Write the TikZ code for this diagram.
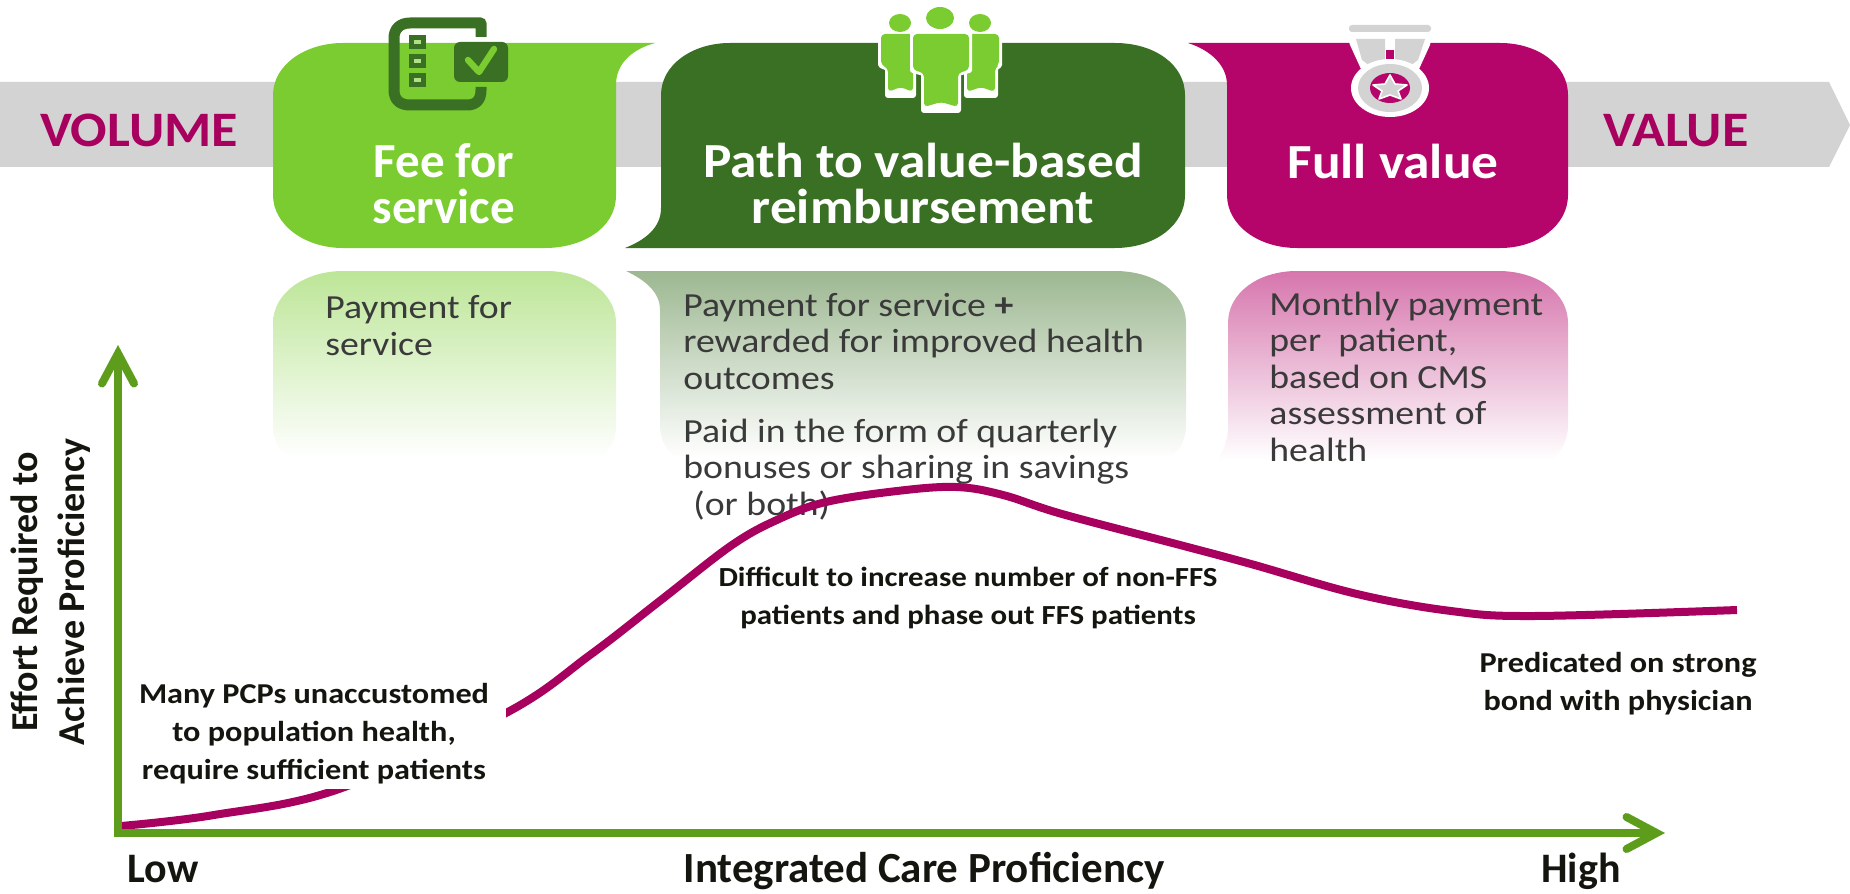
\documentclass[tikz,border=0pt]{standalone}
\usepackage{fontspec}
\setmainfont{Carlito}
\newfontfamily\widef[FakeStretch=1.12]{Carlito}
\newfontfamily\headf[FakeStretch=1.09]{Carlito}
\usetikzlibrary{arrows.meta}
\definecolor{band}{HTML}{D3D3D3}
\definecolor{lime}{HTML}{7ACC30}
\definecolor{forest}{HTML}{3A7023}
\definecolor{berry}{HTML}{B5056A}
\definecolor{curvec}{HTML}{A8005E}
\definecolor{axisg}{HTML}{5E9C1C}
\definecolor{bodyc}{HTML}{3A3A3A}
\definecolor{labelc}{HTML}{151510}
\newcommand{\pxfont}[2]{\fontsize{#1pt}{#2pt}\selectfont}
\tikzset{
  headtext/.style={text=white,font=\headf\bfseries\pxfont{24.5}{23},align=center,anchor=base,inner sep=0pt},
  feetext/.style={text=white,font=\bfseries\pxfont{24.5}{23},align=center,anchor=base,inner sep=0pt},
  endtext/.style={text=curvec,font=\headf\bfseries\pxfont{24.8}{28},anchor=base,inner sep=0pt},
  bodytext/.style={text=bodyc,font=\widef\pxfont{16.85}{18.2},align=left,anchor=base west,inner sep=0pt},
  notetext/.style={text=labelc,font=\widef\bfseries\pxfont{14.4}{19},align=center,anchor=base,inner sep=0pt},
  axistext/.style={text=labelc,font=\bfseries\pxfont{21}{23.5},align=center,anchor=base,inner sep=0pt},
  efforttext/.style={text=labelc,font=\bfseries\pxfont{19}{23.5},align=center,anchor=base,inner sep=0pt},
  axisline/.style={draw=axisg,line width=4pt,-{Straight Barb[length=15pt,width=16pt,line cap=round]}},
}
\begin{document}
\begin{tikzpicture}[x=0.5pt,y=-0.5pt]
\useasboundingbox (0,0) rectangle (1850,893);
% band
\fill[band] (0,82) -- (1829,82) -- (1850,125) -- (1829,167) -- (0,167) -- cycle;
% top boxes
\fill[lime] (343,43) -- (655,43) .. controls (630,50) and (616,65) .. (616,85) -- (616,195) .. controls (616,230) and (580,248) .. (545,248) -- (343,248) .. controls (305,248) and (273,225) .. (273,195) -- (273,95) .. controls (273,65) and (305,43) .. (343,43) -- cycle;
\fill[forest] (730,43) -- (1115,43) .. controls (1155,43) and (1185,65) .. (1185,95) -- (1185,195) .. controls (1185,225) and (1155,248) .. (1115,248) -- (625,248) .. controls (645,240) and (661,228) .. (661,208) -- (661,95) .. controls (661,65) and (692,43) .. (730,43) -- cycle;
\fill[berry] (1188,43) -- (1500,43) .. controls (1538,43) and (1568,65) .. (1568,95) -- (1568,195) .. controls (1568,225) and (1538,248) .. (1500,248) -- (1297,248) .. controls (1258,248) and (1227,225) .. (1227,195) -- (1227,85) .. controls (1227,65) and (1210,50) .. (1188,43) -- cycle;
% lower fading boxes
\shade[top color=lime!50!white,bottom color=white] (343,271) -- (546,271) .. controls (585,271) and (616,293) .. (616,323) -- (616,425) .. controls (616,440) and (610,450) .. (600,458) -- (289,458) .. controls (279,450) and (273,440) .. (273,425) -- (273,323) .. controls (273,293) and (305,271) .. (343,271) -- cycle;
\shade[top color=forest!50!white,bottom color=white] (626,271) -- (1115,271) .. controls (1155,271) and (1186,293) .. (1186,323) -- (1186,425) .. controls (1186,440) and (1180,450) .. (1170,458) -- (676,458) .. controls (666,450) and (660,440) .. (660,425) -- (660,310) .. controls (660,292) and (645,280) .. (626,271) -- cycle;
\shade[top color=berry!55!white,bottom color=white] (1297,271) -- (1498,271) .. controls (1538,271) and (1568,293) .. (1568,323) -- (1568,425) .. controls (1568,440) and (1562,450) .. (1552,460) -- (1217,460) .. controls (1224,450) and (1228,440) .. (1228,425) -- (1228,323) .. controls (1228,293) and (1258,271) .. (1297,271) -- cycle;
% checklist icon
\draw[forest,line width=5.5pt,line join=round] (481,37) -- (481,23) -- (410,23) .. controls (400,23) and (394,29) .. (394,38) -- (394,90) .. controls (394,100) and (400,105) .. (410,105) -- (467,105) .. controls (476,105) and (481,100) .. (481,90) -- (481,87);
\foreach \ya in {42,61,80}{\draw[forest,line width=2.5pt,fill=lime!60!white] (411,\ya-4.5) rectangle (423,\ya+4.5);}
\fill[forest,rounded corners=3pt] (454,42) -- (508,42) -- (508,82) -- (454,82) -- cycle;
\draw[lime,line width=3.2pt,line cap=round,line join=round] (468,60) -- (479,72) -- (494,49);
% people icon
\foreach \cx/\hy/\rx/\ry/\bl/\br/\ll/\lr/\ty/\by/\fy in {900/23/11/9/881/915/888/913/34/65/92,980/23/11/9/968/999/967/995/34/65/92,940/18/14/11/913/969/924/958/34/70/107}{
  \fill[white,draw=white,line width=3pt,line join=round] (\bl,\ty) -- (\br,\ty) -- (\br,\by) -- (\lr,\by+3) -- (\lr,\fy+3) -- (\ll,\fy+3) -- (\ll,\by+3) -- (\bl,\by) -- cycle;
  \fill[lime,rounded corners=2pt] (\bl,\ty) -- (\br,\ty) -- (\br,\by) -- (\lr,\by+3) -- (\lr,\fy) -- ({(\ll+\lr)/2},\fy-5) -- (\ll,\fy) -- (\ll,\by+3) -- (\bl,\by) -- cycle;
  \fill[lime] (\cx,\hy) ellipse [x radius=\rx,y radius=\ry];
}
% medal icon
\fill[white] (1344,25) -- (1434,25) -- (1430,45) -- (1414,80) -- (1366,80) -- (1350,45) -- cycle;
\fill[band,rounded corners=1.5pt] (1349,25) rectangle (1431,32);
\fill[band] (1356,39) -- (1385,39) -- (1385,60) -- (1370,66) -- (1362,60) -- cycle;
\fill[band] (1395,39) -- (1425,39) -- (1418,60) -- (1410,66) -- (1395,60) -- cycle;
\fill[berry] (1386,50) rectangle (1394,60);
\fill[white] (1390,88) ellipse [x radius=39,y radius=29];
\fill[band] (1390,88) ellipse [x radius=32,y radius=24];
\fill[berry] (1390,88) ellipse [x radius=20,y radius=15];
\fill[band,draw=white,line width=0.8pt,line join=round] (1390,75) -- (1395,84) -- (1407,85) -- (1398,91) -- (1401,99) -- (1390,95) -- (1379,99) -- (1382,91) -- (1373,85) -- (1385,84) -- cycle;
% band labels
\node[endtext] (volume) at (139,147) {VOLUME};
\node[endtext] (value) at (1676,147) {VALUE};
% box titles
\node[feetext] (fee) at (444,223) {Fee for\\service};
\node[headtext] (path) at (923,223) {Path to value-based\\reimbursement};
\node[headtext] (full) at (1393,179) {Full value};
% body texts
\node[bodytext] (b1) at (325,355) {Payment for\\service};
\node[bodytext] (b2) at (683,389) {Payment for service \textbf{+}\\rewarded for improved health\\outcomes};
\node[bodytext] (b3) at (683,515) {Paid in the form of quarterly\\bonuses or sharing in savings\\\hspace*{5pt}(or both)};
\node[bodytext] (b4) at (1269,461) {Monthly payment\\per\ \ patient,\\based on CMS\\assessment of\\health};
% axes
\coordinate (origin) at (118,833);
\coordinate (ytip) at (118,345);
\coordinate (xtip) at (1665,833);
% curve
\draw[curvec,line width=4pt] plot[smooth,tension=0.6] coordinates {(121,826) (214,815) (339,789) (506,713) (590,655) (661,600) (732,545) (779,519) (826,502) (897,491) (956,487) (1003,495) (1062,514) (1180,545) (1251,564) (1357,594) (1451,611) (1534,616) (1737,610)};
\fill[white] (124,670) rectangle (506,789);
\draw[axisline,line cap=butt] (118,837) -- (ytip);
\draw[axisline,line cap=butt] (114,833) -- (xtip);
% notes
\node[notetext] (n1) at (314,779) {Many PCPs unaccustomed\\to population health,\\require sufficient patients};
\node[notetext,font=\widef\bfseries\pxfont{13.8}{19}] (n2) at (968,624) {Difficult to increase number of non-FFS\\patients and phase out FFS patients};
\node[notetext] (n3) at (1618,710) {Predicated on strong\\bond with physician};
% axis labels
\node[axistext] (low) at (163,882) {Low};
\node[axistext,font=\bfseries\pxfont{21.5}{23.5}] (icp) at (924,882) {Integrated Care Proficiency};
\node[axistext] (high) at (1581,882) {High};
\node[efforttext,rotate=90] (effort) at (84,592) {Effort Required to\\Achieve Proficiency};
\end{tikzpicture}
\end{document}
